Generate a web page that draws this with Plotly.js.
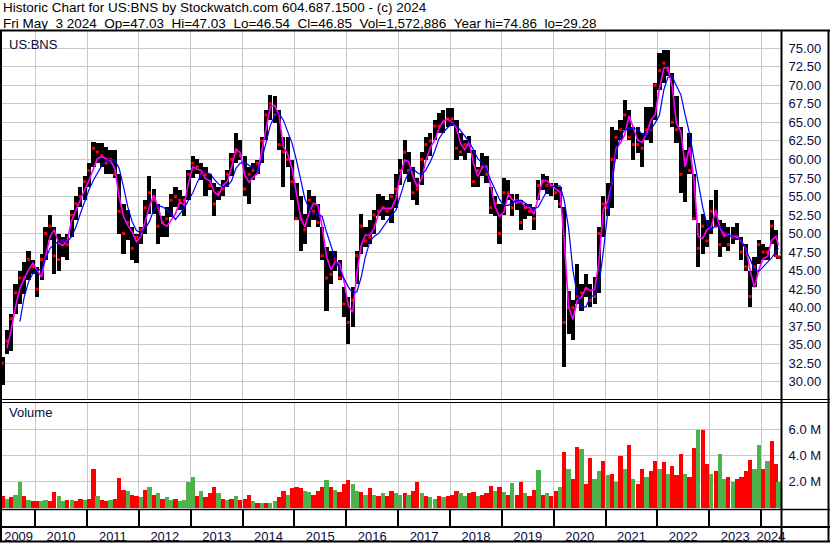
<!DOCTYPE html>
<html><head><meta charset="utf-8">
<script src="https://cdn.plot.ly/plotly-3.0.1.min.js"></script>
<style>html,body{margin:0;padding:0;background:#fff;overflow:hidden}#chart{width:830px;height:543px}</style>
</head><body><div id="chart"></div>
<script>
// ---------- data (monthly) ----------
const dates = [
"2009-05-15","2009-06-15","2009-07-15","2009-08-15","2009-09-15","2009-10-15","2009-11-15","2009-12-15",
"2010-01-15","2010-02-15","2010-03-15","2010-04-15","2010-05-15","2010-06-15","2010-07-15","2010-08-15","2010-09-15","2010-10-15","2010-11-15","2010-12-15",
"2011-01-15","2011-02-15","2011-03-15","2011-04-15","2011-05-15","2011-06-15","2011-07-15","2011-08-15","2011-09-15","2011-10-15","2011-11-15","2011-12-15",
"2012-01-15","2012-02-15","2012-03-15","2012-04-15","2012-05-15","2012-06-15","2012-07-15","2012-08-15","2012-09-15","2012-10-15","2012-11-15","2012-12-15",
"2013-01-15","2013-02-15","2013-03-15","2013-04-15","2013-05-15","2013-06-15","2013-07-15","2013-08-15","2013-09-15","2013-10-15","2013-11-15","2013-12-15",
"2014-01-15","2014-02-15","2014-03-15","2014-04-15","2014-05-15","2014-06-15","2014-07-15","2014-08-15","2014-09-15","2014-10-15","2014-11-15","2014-12-15",
"2015-01-15","2015-02-15","2015-03-15","2015-04-15","2015-05-15","2015-06-15","2015-07-15","2015-08-15","2015-09-15","2015-10-15","2015-11-15","2015-12-15",
"2016-01-15","2016-02-15","2016-03-15","2016-04-15","2016-05-15","2016-06-15","2016-07-15","2016-08-15","2016-09-15","2016-10-15","2016-11-15","2016-12-15",
"2017-01-15","2017-02-15","2017-03-15","2017-04-15","2017-05-15","2017-06-15","2017-07-15","2017-08-15","2017-09-15","2017-10-15","2017-11-15","2017-12-15",
"2018-01-15","2018-02-15","2018-03-15","2018-04-15","2018-05-15","2018-06-15","2018-07-15","2018-08-15","2018-09-15","2018-10-15","2018-11-15","2018-12-15",
"2019-01-15","2019-02-15","2019-03-15","2019-04-15","2019-05-15","2019-06-15","2019-07-15","2019-08-15","2019-09-15","2019-10-15","2019-11-15","2019-12-15",
"2020-01-15","2020-02-15","2020-03-15","2020-04-15","2020-05-15","2020-06-15","2020-07-15","2020-08-15","2020-09-15","2020-10-15","2020-11-15","2020-12-15",
"2021-01-15","2021-02-15","2021-03-15","2021-04-15","2021-05-15","2021-06-15","2021-07-15","2021-08-15","2021-09-15","2021-10-15","2021-11-15","2021-12-15",
"2022-01-15","2022-02-15","2022-03-15","2022-04-15","2022-05-15","2022-06-15","2022-07-15","2022-08-15","2022-09-15","2022-10-15","2022-11-15","2022-12-15",
"2023-01-15","2023-02-15","2023-03-15","2023-04-15","2023-05-15","2023-06-15","2023-07-15","2023-08-15","2023-09-15","2023-10-15","2023-11-15","2023-12-15",
"2024-01-15","2024-02-15","2024-03-15","2024-04-15","2024-05-02"];

const high = [
33.3,37.0,39.2,43.2,45.0,46.2,47.7,46.4,
45.5,47.3,50.9,52.5,50.9,50.0,49.5,50.0,53.2,55.0,56.3,57.7,
59.5,62.4,62.2,62.2,61.7,61.3,61.3,58.0,54.0,53.2,50.9,50.0,
50.9,54.5,57.7,56.0,54.0,52.3,53.6,55.4,56.3,55.9,55.0,58.6,
60.4,60.1,59.5,59.0,58.1,56.8,56.3,57.2,58.6,60.8,63.5,62.6,
60.5,59.0,59.5,59.9,63.0,66.7,68.7,68.5,66.7,63.0,63.0,59.9,
56.8,55.0,52.7,55.9,55.0,54.0,50.9,48.2,47.7,47.7,46.4,42.8,
41.4,42.8,47.7,52.7,50.9,51.8,53.2,55.4,55.0,54.5,55.4,58.0,
60.0,62.6,61.0,59.0,57.5,61.0,63.0,63.5,65.3,66.2,66.7,66.9,
66.9,65.3,63.5,62.6,63.2,61.3,59.0,60.8,60.4,56.3,55.0,54.0,
57.5,57.2,55.4,55.4,54.5,54.0,54.0,53.6,57.2,58.1,57.7,56.8,
56.8,56.3,53.6,42.3,41.0,45.9,43.2,44.6,43.2,44.1,50.9,55.0,
56.8,64.4,64.0,65.3,68.0,66.7,64.4,64.4,63.5,67.1,67.1,70.3,
74.3,74.8,74.8,71.6,68.5,64.4,61.3,63.5,58.1,51.4,52.7,51.8,
54.5,55.9,51.8,51.4,50.9,50.9,51.4,49.5,48.6,45.0,46.8,49.1,
48.6,48.2,51.8,50.5,47.03];

const low = [
29.5,33.8,34.2,39.2,40.5,41.9,43.7,44.6,
41.4,43.7,46.4,49.1,44.6,45.0,46.8,46.4,49.5,51.8,53.6,54.5,
56.3,59.0,59.5,59.0,58.1,58.1,57.5,50.0,47.3,49.1,46.4,46.0,
48.6,50.0,52.7,52.7,48.6,49.5,49.5,52.2,53.6,53.2,52.3,54.5,
57.5,58.1,57.2,55.0,55.9,52.3,54.5,55.0,56.3,57.7,59.5,59.9,
55.0,54.0,57.2,58.1,59.5,62.6,65.3,64.9,61.3,56.3,59.0,54.5,
51.8,47.7,48.6,50.9,51.8,50.9,46.4,39.6,43.2,45.0,43.7,38.7,
35.1,37.4,43.2,47.3,48.2,48.6,50.0,52.3,51.8,52.3,51.4,53.5,
56.5,58.0,57.0,54.5,53.8,56.5,59.9,60.5,62.6,63.5,63.5,64.4,
64.5,59.9,60.4,59.9,60.8,56.3,56.3,57.7,56.8,52.7,52.3,48.6,
52.5,54.5,52.3,53.2,50.5,52.0,52.3,50.5,54.5,55.9,55.4,55.0,
54.5,53.5,32.0,36.5,35.6,40.5,39.6,41.4,40.1,40.5,42.0,49.5,
52.3,53.5,60.0,62.6,64.0,62.6,59.9,60.8,59.0,62.6,62.2,65.3,
69.4,70.3,71.2,64.4,62.2,55.5,54.3,58.1,51.8,45.5,47.3,48.2,
50.0,50.9,46.8,48.2,47.7,48.6,49.1,46.4,45.0,40.1,42.8,45.9,
46.4,46.4,48.6,46.8,46.54];

const close = [
32.5,35.5,38.5,42.0,44.0,44.0,46.5,45.5,
42.5,46.5,50.0,51.0,47.0,46.5,49.0,48.5,52.5,54.0,55.0,57.0,
58.5,61.5,61.0,60.5,59.5,60.0,58.0,53.0,50.0,51.5,48.0,49.5,
50.5,53.5,55.5,54.5,51.0,51.5,52.0,54.5,55.0,54.5,54.5,58.0,
59.5,59.0,58.0,58.0,56.5,54.0,55.5,56.0,58.0,60.0,61.0,60.5,
56.0,58.0,58.5,59.5,62.5,66.0,67.5,66.0,62.0,61.0,60.0,57.0,
52.0,52.0,50.5,54.5,53.0,51.5,47.0,44.0,44.5,46.5,44.0,40.5,
38.0,41.0,47.0,51.0,49.0,49.5,52.5,53.0,53.5,53.0,55.0,56.0,
58.5,61.0,58.5,55.5,56.0,60.0,62.0,62.5,64.5,64.5,65.0,65.5,
65.5,61.5,61.0,62.0,62.0,57.0,58.5,59.0,58.0,53.5,54.0,50.0,
55.5,55.5,53.5,54.5,51.5,53.5,53.0,52.0,56.5,57.0,56.5,56.5,
55.5,54.0,38.0,40.0,40.0,41.5,42.0,42.5,41.0,41.5,50.0,54.0,
53.5,60.0,63.0,64.0,66.0,63.0,62.0,62.0,61.5,64.0,64.0,70.0,
72.0,73.0,72.0,65.0,64.0,58.0,60.0,58.5,52.0,48.0,51.0,49.0,
53.0,51.0,48.5,50.0,48.5,49.5,49.5,47.5,45.5,41.5,45.5,48.5,
47.5,47.5,51.0,47.0,46.85];

// short moving average (magenta) and long moving average (blue)
const maFast = [
null,34.5,36.9,40.1,42.6,43.9,45.1,46.0,
45.1,44.1,46.9,49.6,50.5,48.7,48.4,49.1,51.8,53.2,54.7,55.9,
57.2,58.8,60.1,60.4,60.1,59.8,58.8,55.0,52.3,51.1,50.2,48.9,
49.6,51.8,53.6,55.2,53.6,51.4,51.0,51.8,52.7,54.3,53.8,56.8,
59.0,58.7,58.5,57.4,57.1,55.6,55.1,56.5,57.0,59.0,61.4,60.9,
57.9,56.9,57.6,58.1,61.0,64.2,67.1,67.3,65.9,61.7,60.7,58.8,
55.6,52.0,50.9,52.8,54.1,53.8,50.9,46.9,45.1,46.2,46.0,43.7,
40.3,39.4,44.6,48.4,49.8,49.8,50.7,52.7,53.4,53.4,53.4,54.7,
57.8,59.9,59.7,57.7,56.3,57.4,59.9,61.6,62.6,64.2,65.2,65.4,
65.0,64.2,62.2,61.3,62.4,59.5,57.7,58.9,59.1,56.3,53.6,52.3,
52.9,55.3,54.6,54.1,54.4,53.5,53.5,52.6,55.0,57.2,57.1,56.5,
56.0,55.6,49.1,40.1,38.4,41.0,41.4,42.7,42.3,42.4,46.2,53.2,
54.4,56.8,61.5,62.2,63.3,65.9,64.2,62.6,62.3,63.4,65.3,66.0,
69.6,72.3,72.4,69.8,64.8,63.7,59.0,61.7,57.2,49.6,49.3,50.5,
50.9,53.2,50.9,49.6,49.9,49.6,49.6,48.9,48.0,45.1,42.7,45.1,
46.6,46.9,49.1,49.6,48.4];

const maSlow = [
null,null,null,null,38.1,41.4,43.5,44.6,
45.1,45.1,46.6,48.0,48.6,48.9,49.0,48.9,49.6,50.9,52.7,54.3,
55.9,57.2,58.2,59.2,59.9,60.0,59.9,58.8,56.3,53.6,51.6,50.4,
50.1,50.7,51.6,53.2,53.8,53.6,53.2,52.7,51.9,52.6,53.4,54.5,
55.5,56.9,57.9,58.2,58.1,57.3,56.7,56.3,56.4,57.1,58.8,59.5,
59.6,59.2,58.8,58.4,59.9,62.4,64.6,65.9,66.2,65.3,63.7,62.2,
59.9,57.0,54.7,53.4,52.6,52.6,52.3,50.2,48.2,46.6,45.1,43.9,
42.8,42.0,42.1,44.1,46.9,48.9,49.6,50.0,50.9,51.6,52.5,53.1,
55.0,57.0,58.3,58.8,58.2,57.9,58.6,59.7,61.1,62.8,63.7,64.3,
64.9,64.6,63.9,63.1,62.4,61.3,60.1,59.5,58.6,57.2,55.9,54.6,
53.8,53.8,54.1,54.4,54.5,54.1,53.7,53.3,53.6,54.6,55.8,56.3,
56.5,56.4,54.5,50.7,45.1,41.7,40.1,40.1,41.4,41.7,43.0,47.5,
52.7,57.0,60.8,63.1,64.0,64.2,64.2,64.0,63.4,63.2,64.0,64.9,
66.0,69.4,71.1,71.2,69.9,68.7,66.0,63.5,60.1,56.8,53.6,51.3,
50.5,51.1,50.9,50.3,49.8,49.5,49.3,49.1,47.8,46.6,45.1,44.9,
45.5,46.2,46.7,47.6,48.0];

// volume in millions of shares, and whether the period closed up or down
const volume = [
0.9,0.7,0.8,1.0,2.0,0.9,0.6,0.5,
0.5,0.5,0.6,0.5,1.2,0.9,0.5,0.6,0.6,0.5,0.7,0.6,
0.7,3.0,0.9,0.6,0.5,0.6,0.7,2.3,1.4,1.3,1.0,0.9,
0.8,1.4,1.6,1.0,1.1,0.7,0.8,0.6,0.7,0.5,0.6,2.0,
2.4,0.9,1.3,0.8,1.1,1.6,1.1,0.7,0.6,0.7,0.9,0.6,
0.7,1.0,0.5,0.4,0.4,0.4,0.4,0.5,0.8,1.3,1.0,1.5,
1.6,1.5,1.3,1.2,1.0,1.3,1.6,2.1,1.6,1.4,1.2,1.8,
2.1,1.8,1.3,1.2,1.0,1.5,1.0,0.9,1.1,0.9,1.3,1.1,
1.0,1.1,1.0,1.3,2.0,1.1,0.9,0.8,0.7,0.9,0.8,0.9,
1.0,1.3,1.1,0.9,1.1,1.2,0.9,1.0,1.1,1.7,1.3,1.6,
1.2,1.0,1.9,1.0,2.0,1.1,0.9,1.4,2.9,1.0,1.1,0.9,
1.3,1.6,4.3,3.0,2.2,4.7,4.5,1.8,3.8,2.2,2.8,3.6,
2.5,2.6,2.0,4.0,3.0,4.8,2.2,1.8,3.0,2.4,2.8,3.6,
3.0,3.5,2.6,3.2,2.5,4.1,2.6,2.4,4.6,6.0,6.0,3.4,
2.6,2.8,4.1,2.2,2.4,2.0,2.2,2.4,2.8,3.7,3.0,4.8,
3.0,3.6,5.1,3.4,2.0];

const direction = [
"d","u","d","u","u","d","u","d",
"d","u","u","d","d","u","u","d","u","d","d","u",
"d","d","u","d","d","u","d","d","d","u","d","d",
"u","d","u","d","u","d","u","u","d","u","u","u",
"u","d","u","d","d","d","u","d","u","d","u","d",
"d","d","u","d","u","d","u","u","d","d","u","d",
"d","d","u","u","d","d","d","u","d","u","d","d",
"d","u","u","d","u","d","u","d","u","d","d","u",
"u","d","u","d","d","u","d","u","u","d","u","d",
"d","d","u","u","d","d","u","d","d","d","u","d",
"u","d","u","d","d","u","d","d","u","d","u","d",
"d","u","d","u","d","d","u","d","d","u","u","d",
"u","d","u","d","u","d","u","d","d","u","d","d",
"u","d","u","d","d","d","u","d","d","u","d","d",
"u","d","u","u","d","u","d","d","d","d","u","u",
"d","u","d","d","u"];

const priceTicks = [30,32.5,35,37.5,40,42.5,45,47.5,50,52.5,55,57.5,60,62.5,65,67.5,70,72.5,75];
const volTicks = [2,4,6];
const volTickText = ["2.0 M","4.0 M","6.0 M"];
const yearLabels = ["2009","2010","2011","2012","2013","2014","2015","2016","2017","2018","2019","2020","2021","2022","2023","2024"];
const symbol = "US:BNS";
const header1 = "Historic Chart for US:BNS by Stockwatch.com 604.687.1500 - (c) 2024";
const header2 = "Fri May \u00a03 2024 \u00a0Op=47.03 \u00a0Hi=47.03 \u00a0Lo=46.54 \u00a0Cl=46.85 \u00a0Vol=1,572,886 \u00a0Year hi=74.86 \u00a0lo=29.28";

// ---------- layout helpers ----------
const W = 830, H = 543;
const px = x => x / W;
const py = y => 1 - y / H;
const xRange = ["2009-05-12", "2024-05-20"];
const priceRange = [27.67, 77.33];
const volRange = [-0.1, 8.13];
const DAY = 86400000;
const barW = 29.5 * DAY;
const volW = 30 * DAY;
const xDom = [px(2), px(781)];
const FONT = '"Liberation Sans", Arial, sans-serif';
const NAVY = '#0a0a3c';
const GRID = '#c8c8c8';

// year label positions: centre of each year's visible span
const rs = Date.parse(xRange[0] + "T00:00:00Z"), re = Date.parse(xRange[1] + "T00:00:00Z");
const yearPos = yearLabels.map(y => {
  const a = Math.max(Date.UTC(+y, 0, 1), rs), b = Math.min(Date.UTC(+y + 1, 0, 1), re);
  return new Date((a + b) / 2).toISOString().slice(0, 10);
});

const traces = [
  { type: 'bar', x: dates, y: high.map((h, i) => h - low[i]), base: low, width: barW,
    marker: { color: '#000', line: { width: 0 } }, xaxis: 'x', yaxis: 'y' },
  { type: 'scatter', mode: 'markers', x: dates, y: close,
    marker: { symbol: 'square', size: 3, color: '#ff0000' }, xaxis: 'x', yaxis: 'y' },
  { type: 'scatter', mode: 'lines', x: dates, y: maFast,
    line: { color: '#ff00ff', width: 1.6 }, xaxis: 'x', yaxis: 'y' },
  { type: 'scatter', mode: 'lines', x: dates, y: maSlow,
    line: { color: '#0000ff', width: 1.2 }, xaxis: 'x', yaxis: 'y' },
  { type: 'bar', x: dates, y: volume, width: volW,
    marker: { color: direction.map(d => d === 'u' ? '#4cb34c' : '#ff0000'), line: { width: 0 } },
    xaxis: 'x2', yaxis: 'y2' },
  { type: 'scatter', mode: 'markers', x: [dates[0]], y: [0.5], marker: { opacity: 0 }, xaxis: 'x3', yaxis: 'y3' },
  { type: 'scatter', mode: 'markers', x: [dates[0]], y: [0.5], marker: { opacity: 0 }, xaxis: 'x4', yaxis: 'y3' }
];

const hline = (y, w) => ({ type: 'line', xref: 'paper', yref: 'paper', x0: 0, x1: 1, y0: py(y), y1: py(y), line: { color: '#000', width: w } });
const vline = (x, w) => ({ type: 'line', xref: 'paper', yref: 'paper', x0: px(x), x1: px(x), y0: py(30), y1: py(542), line: { color: '#000', width: w } });

const xCommon = { range: xRange, type: 'date', domain: xDom, tick0: '2010-01-01', dtick: 'M12',
  showgrid: true, gridcolor: GRID, gridwidth: 1, showticklabels: false, ticks: '', zeroline: false, showline: false, fixedrange: true };

const layout = {
  width: W, height: H, margin: { l: 0, r: 0, t: 0, b: 0, pad: 0 },
  paper_bgcolor: '#fff', plot_bgcolor: '#fff', showlegend: false, hovermode: false, bargap: 0,
  font: { family: FONT, size: 13, color: NAVY },
  xaxis: Object.assign({}, xCommon, { anchor: 'y' }),
  yaxis: { domain: [py(399), py(31)], range: priceRange, side: 'right', anchor: 'x',
    tickvals: priceTicks, ticktext: priceTicks.map(v => v.toFixed(2)),
    showgrid: true, gridcolor: GRID, gridwidth: 1, zeroline: false, showline: false,
    ticks: 'outside', ticklen: 4, tickcolor: 'rgba(0,0,0,0)', tickfont: { size: 13, color: NAVY }, fixedrange: true },
  xaxis2: Object.assign({}, xCommon, { anchor: 'y2' }),
  yaxis2: { domain: [py(509), py(402)], range: volRange, side: 'right', anchor: 'x2',
    tickvals: volTicks, ticktext: volTickText,
    showgrid: true, gridcolor: GRID, gridwidth: 1, zeroline: false, showline: false,
    ticks: 'outside', ticklen: 4, tickcolor: 'rgba(0,0,0,0)', tickfont: { size: 13, color: NAVY }, fixedrange: true },
  xaxis3: Object.assign({}, xCommon, { anchor: 'y3', gridcolor: '#000', gridwidth: 2 }),
  yaxis3: { domain: [py(527), py(509)], range: [0, 1], visible: false, anchor: 'x3', fixedrange: true },
  xaxis4: { overlaying: 'x3', anchor: 'y3', side: 'bottom', range: xRange, type: 'date',
    tickmode: 'array', tickvals: yearPos, ticktext: yearLabels, showgrid: false, ticks: '',
    zeroline: false, showline: false, tickfont: { size: 13, color: NAVY }, fixedrange: true },
  shapes: [
    hline(30.5, 2), hline(399.5, 1), hline(402.5, 1), hline(509.5, 1.5), hline(527, 2), hline(541.5, 2),
    vline(1, 2), vline(781.5, 2), vline(828.5, 2)
  ],
  annotations: [
    { xref: 'paper', yref: 'paper', x: px(1), y: py(8), xanchor: 'left', yanchor: 'middle', showarrow: false,
      text: header1, font: { family: FONT, size: 13.5, color: '#000' } },
    { xref: 'paper', yref: 'paper', x: px(1), y: py(23), xanchor: 'left', yanchor: 'middle', showarrow: false,
      text: header2, font: { family: FONT, size: 13.5, color: '#000' } },
    { xref: 'paper', yref: 'paper', x: px(7), y: py(44), xanchor: 'left', yanchor: 'middle', showarrow: false,
      text: symbol, font: { family: FONT, size: 13, color: NAVY } },
    { xref: 'paper', yref: 'paper', x: px(7), y: py(413), xanchor: 'left', yanchor: 'middle', showarrow: false,
      text: 'Volume', font: { family: FONT, size: 13, color: NAVY } }
  ]
};

Plotly.newPlot('chart', traces, layout, { staticPlot: true, displayModeBar: false });
</script>
</body></html>
